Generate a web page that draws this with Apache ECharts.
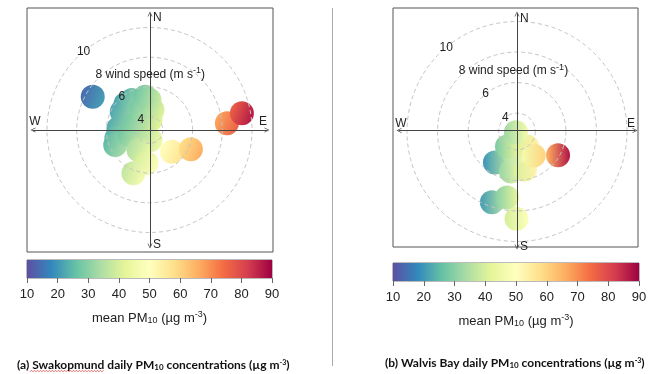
<!DOCTYPE html>
<html>
<head>
<meta charset="utf-8">
<script src="https://cdn.jsdelivr.net/npm/echarts@6/dist/echarts.min.js"></script>
<style>
  html, body { margin: 0; padding: 0; background: #ffffff; }
  #chart { width: 658px; height: 374px; }
</style>
</head>
<body>
<div id="chart"></div>
<script>
// PM10 colour scale: reversed Spectral palette from 10 to 90 µg m-3
const paletteStops = ['#5E4FA2', '#3288BD', '#66C2A5', '#ABDDA4', '#E6F598', '#FFFFBF',
                      '#FEE08B', '#FDAE61', '#F46D43', '#D53E4F', '#9E0142'];
const pmMin = 10;
const pmMax = 90;
const pmTickStep = 10;

// Radial wind-speed scale of each panel (m/s at the centre and at the outer ring)
const swkSpeedRange = [3.1, 10];
const wvbSpeedRange = [2.8, 10];

// Swakopmund: wind direction (deg), wind speed (m/s), mean PM10 on the low / high side of each kernel
const swkDir   = [303.5, 317.3, 329.5, 273.1, 256.4, 246.4, 256.0, 297.8, 338.2, 352.6,   0.0,   8.5,   5.7, 174.3, 208.8, 185.2, 200.3, 300.4, 134.2, 115.0,  85.0,  79.7];
const swkSpeed = [ 5.34,  5.48,  5.44,  5.19,  5.39,  5.62,  4.49,  4.07,  4.55,  5.36,  5.12,  4.46,  3.78,  3.78,  4.64,  5.33,  6.21,  7.53,  5.19,  6.17,  8.33,  9.42];
const swkLow   = [   22,    22,    24,    23,    24,    25,    27,    28,    28,    27,    29,    31,    32,    35,    34,    40,    37,    14,    50,    58,    67,    76];
const swkHigh  = [   31,    32,    34,    32,    33,    34,    37,    37,    38,    37,    39,    41,    42,    45,    44,    49,    47,    21,    57,    66,    76,    87];

// Walvis Bay: same layout
const wvbDir   = [199.5, 188.6, 180.3, 215.4, 188.5, 168.1, 187.8, 213.7, 146.3, 235.0, 145.2, 120.0];
const wvbSpeed = [ 7.71,  7.17,  8.51,  5.29,  5.45,  5.34,  4.25,  3.98,  3.98,  2.88,  4.71,  5.90];
const wvbLow   = [   21,    30,    40,    20,    32,    40,    34,    29,    41,    33,    46,    66];
const wvbHigh  = [   34,    43,    49,    34,    45,    53,    47,    42,    54,    46,    60,    87];

const FONT = 'Liberation Sans';

function hexToRgb(h) {
  const n = parseInt(h.slice(1), 16);
  return [(n >> 16) & 255, (n >> 8) & 255, n & 255];
}
const paletteRgb = paletteStops.map(hexToRgb);

function pmColor(v) {
  let t = (v - pmMin) / (pmMax - pmMin) * (paletteRgb.length - 1);
  t = Math.max(0, Math.min(paletteRgb.length - 1, t));
  const i = Math.min(Math.floor(t), paletteRgb.length - 2);
  const f = t - i;
  const a = paletteRgb[i], b = paletteRgb[i + 1];
  const c = a.map((x, k) => Math.round(x + (b[k] - x) * f));
  return 'rgb(' + c.join(',') + ')';
}

// each kernel is shaded from its low to its high value; tilt sets how far the shading leans downward
function kernelData(dirs, speeds, low, high, tilt) {
  return dirs.map((d, i) => ({
    value: [speeds[i], d],
    itemStyle: {
      opacity: 1,
      color: new echarts.graphic.LinearGradient(0.03, 0.5 - tilt, 0.97, 0.5 + tilt, [
        { offset: 0, color: pmColor(low[i]) },
        { offset: 1, color: pmColor(high[i]) }
      ])
    }
  }));
}

const barGradient = new echarts.graphic.LinearGradient(0, 0, 1, 0,
  paletteStops.map((c, i) => ({ offset: i / (paletteStops.length - 1), color: c })));

const chevron = 'path://M0,10 L5,0 L10,10 L8.6,10 L5,2.8 L1.4,10 Z';

const richSmall = {
  sup: { fontSize: 9, fontFamily: FONT, color: '#222', padding: [0, 0, 7, 0] },
  t: { fontSize: 12, fontFamily: FONT, color: '#222' },
  sp: { width: 95 }
};

function frameAxes(gi) {
  return [
    { gridIndex: gi, type: 'value', show: false },
    { gridIndex: gi, type: 'value', show: false }
  ];
}
function arrowAxis(gi) {
  return {
    gridIndex: gi, type: 'value', min: -1, max: 1, z: 10,
    axisLine: { show: true, onZero: true, symbol: [chevron, chevron], symbolSize: [7, 5],
                lineStyle: { color: '#444', width: 1 } },
    axisTick: { show: false }, axisLabel: { show: false }, splitLine: { show: false }
  };
}
function colourbarXAxis(gi) {
  return {
    gridIndex: gi, type: 'value', min: pmMin, max: pmMax, interval: pmTickStep,
    axisLine: { show: false },
    axisTick: { show: true, length: 5, lineStyle: { color: '#666' } },
    axisLabel: { margin: 10, fontSize: 13, color: '#222', fontFamily: FONT },
    splitLine: { show: false },
    name: '{t|mean PM}{sub|10}{t| (µg m}{sup|-3}{t|)}',
    nameLocation: 'middle', nameGap: 32,
    nameTextStyle: { fontSize: 12, fontFamily: FONT, color: '#222', rich: {
      t: { fontSize: 13, fontFamily: FONT, color: '#222' },
      sub: { fontSize: 9, fontFamily: FONT, color: '#222', padding: [5, 0, 0, 0] },
      sup: { fontSize: 9, fontFamily: FONT, color: '#222', padding: [0, 0, 7, 0] }
    } }
  };
}
function radiusAxis(pi, range) {
  return {
    polarIndex: pi, type: 'value', min: range[0], max: range[1], splitNumber: 3, z: 10,
    axisLine: { show: false }, axisTick: { show: false },
    axisLabel: {
      showMinLabel: false, margin: 0, align: 'center', verticalAlign: 'middle',
      fontSize: 12, fontFamily: FONT, color: '#222',
      formatter: v => Math.abs(v - 8) < 1e-6 ? '{sp| }8{t| wind speed (m s}{sup|-1}{t|)}' : String(v),
      rich: richSmall
    },
    splitLine: { show: true, lineStyle: { color: '#c4c4c4', width: 1, type: [4, 3] } }
  };
}
function angleAxis(pi) {
  return {
    polarIndex: pi, type: 'value', min: -40, max: 320, startAngle: 130, clockwise: true,
    axisLine: { show: false }, axisTick: { show: false }, axisLabel: { show: false },
    splitLine: { show: false }
  };
}

const capRich = {
  b: { fontFamily: 'Lato', fontWeight: 'bold', fontSize: 12, color: '#111' },
  sub: { fontFamily: 'Lato', fontWeight: 'bold', fontSize: 8, color: '#111', padding: [3, 0, 0, 0] },
  sup: { fontFamily: 'Lato', fontWeight: 'bold', fontSize: 7, color: '#111', padding: [0, 0, 6, 0] }
};

function compass(x, y, txt, align) {
  return { type: 'text', x: x, y: y, style: { text: txt, fontSize: 12, fontFamily: FONT,
           fill: '#222', align: align, verticalAlign: 'middle' }, z: 20 };
}

// wavy proofing underline under the place name
const squiggle = [];
for (let x = 30, k = 0; x <= 104; x += 1.5, k++) squiggle.push([x, 371 + (k % 2 ? -0.8 : 0.8)]);

const kernelSeries = (pi, data) => ({
  type: 'scatter', coordinateSystem: 'polar', polarIndex: pi, symbol: 'circle', symbolSize: 24,
  silent: true, itemStyle: { opacity: 1, borderWidth: 0 }, data: data
});

const chart = echarts.init(document.getElementById('chart'), null, { renderer: 'canvas' });
chart.setOption({
  animation: false,
  backgroundColor: '#ffffff',
  title: [
    { text: '{b|(a) Swakopmund daily PM}{sub|10}{b| concentrations (µg m}{sup|-3}{b|)}',
      left: 12, top: 354, textStyle: { rich: capRich } },
    { text: '{b|(b) Walvis Bay daily PM}{sub|10}{b| concentrations (µg m}{sup|-3}{b|)}',
      left: 380, top: 352, textStyle: { rich: capRich } }
  ],
  grid: [
    { left: 27, top: 8, width: 246, height: 244, show: true, borderColor: '#555', borderWidth: 1, backgroundColor: 'transparent' },
    { left: 33, top: 14, width: 234, height: 232 },
    { left: 27, top: 260, width: 245, height: 18, show: true, borderColor: '#777', borderWidth: 1 },
    { left: 393, top: 8, width: 245, height: 239, show: true, borderColor: '#555', borderWidth: 1, backgroundColor: 'transparent' },
    { left: 399, top: 14, width: 236, height: 233 },
    { left: 393, top: 263, width: 246, height: 18, show: true, borderColor: '#777', borderWidth: 1 }
  ],
  xAxis: [
    frameAxes(0)[0], arrowAxis(1), colourbarXAxis(2),
    frameAxes(3)[0], arrowAxis(4), colourbarXAxis(5)
  ],
  yAxis: [
    frameAxes(0)[1], arrowAxis(1), { gridIndex: 2, type: 'category', data: ['pm'], show: false },
    frameAxes(3)[1], arrowAxis(4), { gridIndex: 5, type: 'category', data: ['pm'], show: false }
  ],
  polar: [
    { center: [149.5, 130], radius: 102.5 },
    { center: [517, 131.5], radius: 110 }
  ],
  radiusAxis: [radiusAxis(0, swkSpeedRange), radiusAxis(1, wvbSpeedRange)],
  angleAxis: [angleAxis(0), angleAxis(1)],
  series: [
    kernelSeries(0, kernelData(swkDir, swkSpeed, swkLow, swkHigh, 0.175)),
    kernelSeries(1, kernelData(wvbDir, wvbSpeed, wvbLow, wvbHigh, 0)),
    { type: 'bar', xAxisIndex: 2, yAxisIndex: 2, stack: 'cbA', barWidth: '100%', silent: true,
      itemStyle: { color: 'rgba(0,0,0,0)' }, data: [pmMin] },
    { type: 'bar', xAxisIndex: 2, yAxisIndex: 2, stack: 'cbA', barWidth: '100%', silent: true,
      itemStyle: { color: barGradient }, data: [pmMax - pmMin] },
    { type: 'bar', xAxisIndex: 5, yAxisIndex: 5, stack: 'cbB', barWidth: '100%', silent: true,
      itemStyle: { color: 'rgba(0,0,0,0)' }, data: [pmMin] },
    { type: 'bar', xAxisIndex: 5, yAxisIndex: 5, stack: 'cbB', barWidth: '100%', silent: true,
      itemStyle: { color: barGradient }, data: [pmMax - pmMin] }
  ],
  graphic: [
    { type: 'line', shape: { x1: 332.5, y1: 8, x2: 332.5, y2: 366 }, style: { stroke: '#aaa', lineWidth: 1 } },
    compass(153, 18, 'N', 'left'), compass(153, 245, 'S', 'left'),
    compass(35, 122, 'W', 'center'), compass(263, 122, 'E', 'center'),
    compass(520, 19, 'N', 'left'), compass(520, 247, 'S', 'left'),
    compass(401, 124, 'W', 'center'), compass(631, 124, 'E', 'center'),
    { type: 'polyline', shape: { points: squiggle }, style: { stroke: '#e05050', lineWidth: 0.8, fill: null } }
  ]
});
</script>
</body>
</html>
